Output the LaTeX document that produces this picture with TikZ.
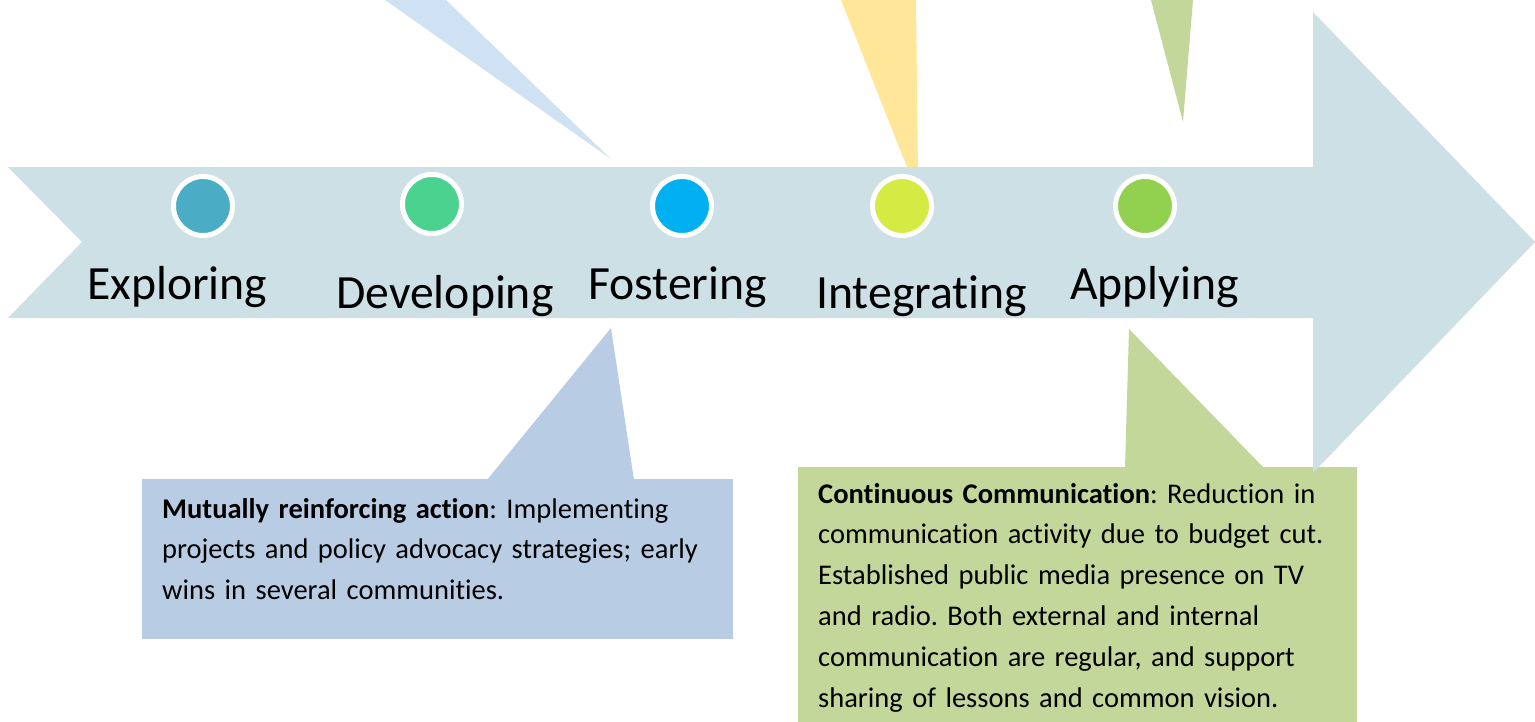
\documentclass[tikz,border=0pt]{standalone}
\usepackage{fontspec}
\setmainfont{Carlito}[Ligatures=NoCommon]

\definecolor{arrowblue}{RGB}{205,224,230}
\definecolor{skyblue}{RGB}{207,226,243}
\definecolor{sandyellow}{RGB}{255,230,153}
\definecolor{olivegreen}{RGB}{196,215,155}
\definecolor{boxblue}{RGB}{184,204,228}
\definecolor{dotA}{RGB}{75,172,198}
\definecolor{dotB}{RGB}{74,210,143}
\definecolor{dotC}{RGB}{0,176,240}
\definecolor{dotD}{RGB}{212,235,67}
\definecolor{dotE}{RGB}{146,208,80}

\newcommand{\stagefont}{\fontsize{47.7}{56}\selectfont}
\newcommand{\notefont}{\fontsize{28.5}{40.8}\selectfont\frenchspacing}

\begin{document}
\begin{tikzpicture}[x=1pt,y=-1pt]

      \useasboundingbox (0,0) rectangle (1535,721);

      % pointers of the callouts
      \fill[skyblue]    (385,0) -- (446,0) -- (611,159) -- cycle;
      \fill[sandyellow] (841,0) -- (916,0) -- (918,175) -- (910,175) -- cycle;
      \fill[olivegreen] (1151,0) -- (1193,0) -- (1183,122) -- cycle;
      \fill[boxblue]    (487,480) -- (611,328) -- (634,480) -- cycle;
      \fill[olivegreen] (1125,468) -- (1129,329) -- (1264,468) -- cycle;

      \begin{scope}[every node/.style={anchor=north west, inner sep=0pt}]
        \node[fill=boxblue, minimum width=591pt, minimum height=160pt] (mrabox) at (142,479) {};
        \node[fill=olivegreen, minimum width=559pt, minimum height=260pt] (ccbox) at (798,467) {};
      \end{scope}

      % the arrow
      \fill[arrowblue] (8,167) -- (1313,167) -- (1313,12) -- (1535,242)
        -- (1313,473) -- (1313,318) -- (8,318) -- (82,242) -- cycle;

      \begin{scope}[every node/.style={circle, draw=white, line width=5pt, minimum size=59pt, inner sep=0pt}]
        \node[fill=dotA] (1) at (203,206) {};
        \node[fill=dotB] (2) at (432,204) {};
        \node[fill=dotC] (3) at (682,206) {};
        \node[fill=dotD] (4) at (902,206) {};
        \node[fill=dotE] (5) at (1145,206) {};
      \end{scope}

      \begin{scope}[every node/.style={anchor=base west, inner sep=0pt, font=\stagefont}]
        \node (exploring)   at (87,299)   {Exploring};
        \node (developing)  at (336,308)  {Developing};
        \node (fostering)   at (588,299)  {Fostering};
        \node (integrating) at (816,308)  {Integrating};
        \node (applying)    at (1070,299) {Applying};
      \end{scope}

      \begin{scope}[every node/.style={anchor=base west, inner sep=0pt, align=left, font=\notefont}]
        \node[text width=560pt] (mratext) at (162,518)
          {\textbf{Mutually reinforcing action}: Implementing\\
           projects and policy advocacy strategies; early\\
           wins in several communities.};
        \node[text width=530pt] (cctext) at (818,503)
          {\textbf{Continuous Communication}: Reduction in\\
           communication activity due to budget cut.\\
           Established public media presence on TV\\
           and radio. Both external and internal\\
           communication are regular, and support\\
           sharing of lessons and common vision.};
      \end{scope}

    \end{tikzpicture}
\end{document}
